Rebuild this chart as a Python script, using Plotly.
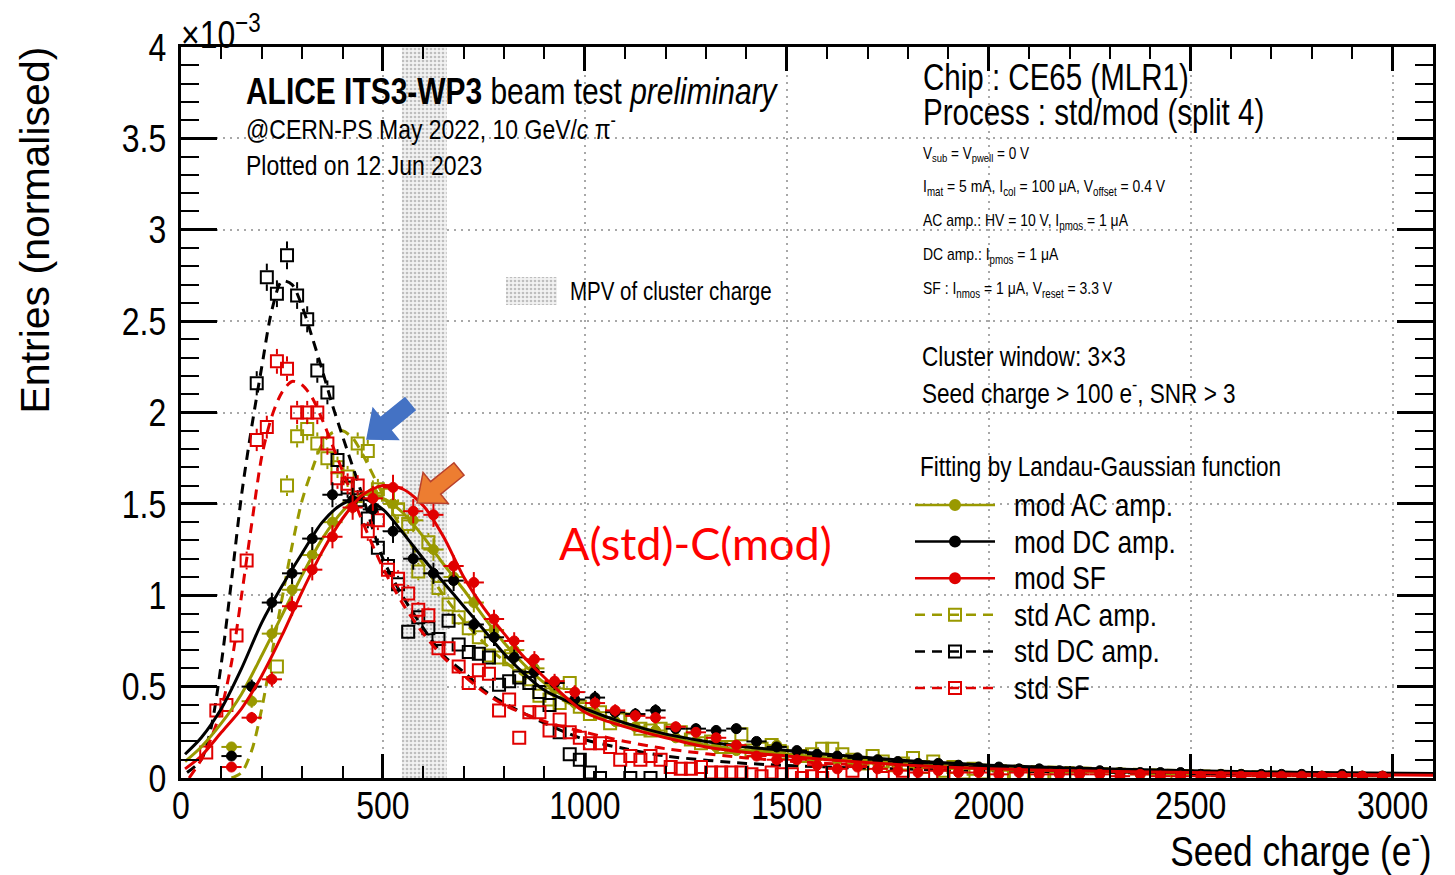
import plotly.graph_objects as go

# ------------------------------------------------------------------
# Seed-charge distributions (entries normalised, in units of 1e-3)
# ------------------------------------------------------------------
# "mod" process, 50 e- bins
mod_x = [125, 175, 225, 275, 325, 375, 425, 475, 525, 575, 625, 675, 725, 775,
         825, 875, 925, 975, 1025, 1075, 1125, 1175, 1225, 1275, 1325, 1375,
         1425, 1475, 1525, 1575, 1625, 1675, 1725, 1775, 1825, 1875, 1925, 1975,
         2025, 2075, 2125, 2175, 2225, 2275, 2325, 2375, 2425, 2475, 2525, 2575,
         2625, 2675, 2725, 2775, 2825, 2875, 2925, 2975]
mod_ac_y = [0.17, 0.42, 0.79, 1.03, 1.22, 1.40, 1.51, 1.56, 1.50, 1.41, 1.25, 1.10, 0.96, 0.81,
            0.70, 0.60, 0.49, 0.41, 0.36, 0.31, 0.28, 0.26, 0.22, 0.20, 0.17, 0.15,
            0.15, 0.18, 0.12, 0.11, 0.10, 0.08, 0.08, 0.07, 0.06, 0.06, 0.05, 0.05,
            0.04, 0.04, 0.04, 0.03, 0.03, 0.03, 0.03, 0.02, 0.02, 0.02, 0.02, 0.02,
            0.02, 0.01, 0.01, 0.01, 0.01, 0.01, 0.01, 0.01]
mod_dc_y = [0.12, 0.50, 0.96, 1.12, 1.31, 1.55, 1.52, 1.47, 1.35, 1.20, 1.12, 1.08, 0.84, 0.77,
            0.66, 0.58, 0.52, 0.43, 0.44, 0.36, 0.35, 0.37, 0.27, 0.27, 0.26, 0.27,
            0.20, 0.17, 0.15, 0.13, 0.12, 0.11, 0.10, 0.09, 0.08, 0.08, 0.07, 0.06,
            0.06, 0.05, 0.05, 0.04, 0.04, 0.04, 0.03, 0.03, 0.03, 0.03, 0.02, 0.02,
            0.02, 0.02, 0.02, 0.02, 0.01, 0.02, 0.01, 0.01]
mod_sf_y = [0.06, 0.33, 0.54, 0.94, 1.14, 1.32, 1.48, 1.53, 1.59, 1.46, 1.44, 1.16, 1.07, 0.87,
            0.75, 0.65, 0.53, 0.47, 0.41, 0.37, 0.34, 0.33, 0.28, 0.25, 0.22, 0.18,
            0.12, 0.10, 0.10, 0.07, 0.05, 0.06, 0.05, 0.04, 0.03, 0.04, 0.03, 0.03,
            0.02, 0.03, 0.02, 0.02, 0.02, 0.02, 0.01, 0.02, 0.01, 0.01, 0.01, 0.01,
            0.01, 0.01, 0.01, 0.01, 0.01, 0.01, 0.01, 0.01]

# "std" process, 25 e- bins
std_ac_x = [237.5, 262.5, 287.5, 312.5, 337.5, 362.5, 387.5, 412.5, 437.5, 462.5, 487.5,
            512.5, 537.5, 562.5, 587.5, 612.5, 637.5, 662.5, 687.5, 712.5, 737.5, 762.5,
            787.5, 812.5, 837.5, 862.5, 887.5, 912.5, 937.5, 962.5, 987.5, 1012.5, 1037.5,
            1062.5, 1087.5, 1112.5, 1137.5, 1162.5, 1187.5, 1212.5, 1237.5, 1262.5, 1287.5,
            1312.5, 1337.5, 1362.5, 1387.5, 1412.5, 1437.5, 1462.5, 1487.5, 1512.5, 1537.5,
            1562.5, 1587.5, 1612.5, 1637.5, 1662.5, 1687.5, 1712.5, 1737.5, 1762.5, 1787.5,
            1812.5, 1837.5, 1862.5, 1887.5, 1912.5, 1937.5, 1962.5, 1987.5, 2012.5, 2037.5,
            2062.5, 2087.5, 2112.5, 2137.5, 2162.5, 2187.5, 2437.5]
std_ac_y = [0.61, 1.60, 1.87, 1.91, 1.83, 1.75, 1.70, 1.65, 1.83, 1.79, 1.58,
            1.55, 1.47, 1.39, 1.13, 1.29, 1.04, 0.95, 0.88, 0.82, 0.77, 0.67,
            0.66, 0.65, 0.56, 0.54, 0.45, 0.43, 0.41, 0.52, 0.39, 0.35, 0.36,
            0.30, 0.32, 0.32, 0.27, 0.26, 0.27, 0.26, 0.25, 0.21, 0.19,
            0.20, 0.17, 0.17, 0.24, 0.15, 0.16, 0.18, 0.14, 0.10, 0.12,
            0.13, 0.16, 0.16, 0.13, 0.10, 0.08, 0.12, 0.09, 0.07, 0.08,
            0.11, 0.06, 0.09, 0.04, 0.06, 0.03, 0.05, 0.03, 0.02, 0.01,
            0.02, 0.01, 0.00, 0.01, 0.00, 0.00, 0.00]
std_dc_x = [187.5, 212.5, 237.5, 262.5, 287.5, 312.5, 337.5, 362.5, 387.5, 412.5, 437.5,
            462.5, 487.5, 512.5, 537.5, 562.5, 587.5, 612.5, 637.5, 662.5, 687.5, 712.5,
            737.5, 762.5, 787.5, 812.5, 837.5, 862.5, 887.5, 912.5, 937.5, 962.5, 987.5,
            1012.5, 1037.5, 1112.5, 1162.5]
std_dc_y = [2.16, 2.74, 2.65, 2.86, 2.64, 2.51, 2.23, 2.11, 1.74, 1.59, 1.52,
            1.42, 1.26, 1.16, 1.06, 0.80, 0.88, 0.82, 0.76, 0.86, 0.73, 0.69,
            0.68, 0.66, 0.51, 0.53, 0.55, 0.52, 0.47, 0.40, 0.25, 0.13, 0.10,
            0.03, 0.00, 0.00, 0.00]
std_sf_x = [62.5, 87.5, 112.5, 137.5, 162.5, 187.5, 212.5, 237.5, 262.5, 287.5, 312.5,
            337.5, 362.5, 387.5, 412.5, 437.5, 462.5, 487.5, 512.5, 537.5, 562.5, 587.5,
            612.5, 637.5, 662.5, 687.5, 712.5, 737.5, 762.5, 787.5, 812.5, 837.5, 862.5,
            887.5, 912.5, 937.5, 962.5, 987.5, 1012.5, 1037.5, 1062.5, 1087.5, 1112.5,
            1137.5, 1162.5, 1187.5, 1212.5, 1237.5, 1262.5, 1287.5, 1312.5, 1337.5, 1362.5,
            1387.5, 1412.5, 1437.5, 1462.5, 1487.5, 1512.5, 1537.5, 1562.5, 1587.5, 1612.5,
            1662.5, 1737.5, 1787.5, 1837.5, 1887.5]
std_sf_y = [0.14, 0.37, 0.40, 0.78, 1.19, 1.85, 1.92, 2.28, 2.24, 2.00, 2.00,
            2.00, 1.83, 1.64, 1.61, 1.60, 1.35, 1.41, 1.14, 1.09, 1.01, 0.92,
            0.89, 0.71, 0.71, 0.61, 0.52, 0.59, 0.57, 0.37, 0.43, 0.22, 0.36,
            0.36, 0.26, 0.32, 0.25, 0.22, 0.19, 0.19, 0.17, 0.10, 0.12,
            0.10, 0.12, 0.10, 0.06, 0.05, 0.05, 0.06, 0.03, 0.03, 0.03,
            0.03, 0.02, 0.01, 0.03, 0.02, 0.02, 0.00, 0.01, 0.00, 0.02,
            0.04, 0.00, 0.04, 0.02, 0.01]

# Landau-Gaussian fit curves, sampled along x
fit_mod_x = [10, 50, 100, 150, 200, 250, 300, 350, 400, 450, 500, 550, 600, 650, 700, 750,
             800, 850, 900, 1000, 1100, 1200, 1300, 1400, 1500, 1600, 1800, 2000, 2200,
             2500, 2800, 3100]
fit_mod_ac = [0.09, 0.17, 0.30, 0.46, 0.67, 0.89, 1.11, 1.31, 1.46, 1.55, 1.53, 1.45, 1.32,
              1.17, 1.03, 0.88, 0.74, 0.62, 0.52, 0.38, 0.30, 0.23, 0.18, 0.15, 0.13, 0.11,
              0.08, 0.06, 0.048, 0.035, 0.025, 0.02]
fit_mod_dc = [0.13, 0.22, 0.38, 0.60, 0.85, 1.05, 1.23, 1.40, 1.50, 1.53, 1.47, 1.34, 1.20,
              1.07, 0.94, 0.81, 0.68, 0.57, 0.48, 0.38, 0.30, 0.24, 0.20, 0.17, 0.15, 0.13,
              0.095, 0.07, 0.055, 0.04, 0.03, 0.025]
fit_mod_sf = [0.05, 0.12, 0.25, 0.38, 0.56, 0.78, 1.02, 1.24, 1.42, 1.55, 1.60, 1.58, 1.49,
              1.32, 1.10, 0.93, 0.79, 0.66, 0.55, 0.36, 0.28, 0.22, 0.17, 0.14, 0.12, 0.10,
              0.07, 0.05, 0.04, 0.03, 0.02, 0.015]
fit_std_ac_x = [125, 150, 175, 200, 225, 250, 275, 300, 325, 350, 375, 400, 425, 450, 500,
                550, 600, 650, 700, 750, 800, 900, 1000, 1100, 1200, 1400, 1600, 1800, 2000,
                2500, 3100]
fit_std_ac = [0.0, 0.03, 0.15, 0.38, 0.68, 0.98, 1.27, 1.52, 1.69, 1.83, 1.89, 1.90, 1.86,
              1.77, 1.55, 1.35, 1.17, 1.00, 0.86, 0.74, 0.64, 0.48, 0.37, 0.30, 0.24, 0.17,
              0.12, 0.09, 0.07, 0.04, 0.02]
fit_std_dc_x = [15, 50, 75, 100, 125, 150, 175, 200, 225, 250, 275, 300, 325, 350, 375, 400,
                450, 500, 550, 600, 650, 700, 750, 800, 900, 1000, 1100, 1200, 1400, 1600,
                2000, 2500, 3100]
fit_std_dc = [0.03, 0.10, 0.28, 0.63, 1.08, 1.55, 1.92, 2.25, 2.56, 2.72, 2.70, 2.58, 2.41,
              2.23, 2.04, 1.87, 1.54, 1.20, 0.99, 0.82, 0.67, 0.58, 0.48, 0.41, 0.30, 0.21,
              0.16, 0.12, 0.08, 0.06, 0.04, 0.025, 0.02]
fit_std_sf_x = [20, 50, 75, 100, 125, 150, 175, 200, 225, 250, 275, 300, 325, 350, 375, 400,
                450, 500, 550, 600, 650, 700, 750, 800, 900, 1000, 1100, 1200, 1400, 1600,
                2000, 2500, 3100]
fit_std_sf = [0.0, 0.10, 0.22, 0.38, 0.63, 1.00, 1.39, 1.76, 1.98, 2.11, 2.17, 2.15, 2.08,
              1.96, 1.82, 1.68, 1.40, 1.15, 0.95, 0.79, 0.66, 0.56, 0.47, 0.40, 0.31, 0.25,
              0.20, 0.16, 0.11, 0.08, 0.05, 0.03, 0.02]

# MPV range of the cluster charge (e-)
mpv_range = [547, 658]

x_range = [0, 3100]
y_range = [0, 4]

# ------------------------------------------------------------------
# Styling
# ------------------------------------------------------------------
OLIVE = "#999900"
BLACK = "#000000"
RED = "#e00000"
FONT = "Liberation Sans, Arial, sans-serif"
FONT_WIDE = "Arial, Liberation Sans, sans-serif"
DASH = "10px,7px"
SQUEEZE = 0.82  # horizontal text compression (narrow Helvetica look)
SQ_SIZE = 12    # open-square marker size (px)

# plot frame in pixels (figure is 1455 x 875)
W, H = 1455, 875
L, R, T, B = 181, 1433, 47, 778


def fx(px):
    return (px - L) / (R - L)


def fy(py):
    return (B - py) / (B - T)


def stat_err(vals, k):
    return [k * v ** 0.5 for v in vals]


fig = go.Figure()

# MPV band
fig.add_trace(go.Scatter(
    x=[mpv_range[0], mpv_range[1], mpv_range[1], mpv_range[0], mpv_range[0]],
    y=[y_range[0], y_range[0], y_range[1], y_range[1], y_range[0]],
    mode="none", fill="toself", fillcolor="rgba(0,0,0,0)",
    fillpattern=dict(shape=".", fgcolor="#8a8a8a", bgcolor="#f2f2f2", size=4, solidity=0.35),
    hoverinfo="skip", showlegend=False))

series = [
    # name, x, y, colour, symbol, half bin width, fit x, fit y, dash, err coef
    ("std AC amp.", std_ac_x, std_ac_y, OLIVE, "square-open", 12.5, fit_std_ac_x, fit_std_ac, DASH, 0.045),
    ("std DC amp.", std_dc_x, std_dc_y, BLACK, "square-open", 12.5, fit_std_dc_x, fit_std_dc, DASH, 0.045),
    ("std SF", std_sf_x, std_sf_y, RED, "square-open", 12.5, fit_std_sf_x, fit_std_sf, DASH, 0.045),
    ("mod AC amp.", mod_x, mod_ac_y, OLIVE, "circle", 25, fit_mod_x, fit_mod_ac, "solid", 0.055),
    ("mod DC amp.", mod_x, mod_dc_y, BLACK, "circle", 25, fit_mod_x, fit_mod_dc, "solid", 0.055),
    ("mod SF", mod_x, mod_sf_y, RED, "circle", 25, fit_mod_x, fit_mod_sf, "solid", 0.055),
]

# half height of an open square, in data units: error bars start outside the marker
sq_half = (SQ_SIZE / 2 + 1) * (y_range[1] - y_range[0]) / (B - T)

for name, xs, ys, col, sym, hw, fxs, fys, dash, k in series:
    errs = stat_err(ys, k)
    if sym.endswith("open"):
        # vertical error bars drawn only outside the hollow marker
        ex, ey = [], []
        for x, y, e in zip(xs, ys, errs):
            if e > sq_half:
                ex += [x, x, None, x, x, None]
                ey += [y + sq_half, y + e, None, y - sq_half, y - e, None]
        fig.add_trace(go.Scatter(x=ex, y=ey, mode="lines", showlegend=False, hoverinfo="skip",
                                 line=dict(color=col, width=2)))
        fig.add_trace(go.Scatter(
            x=xs, y=ys, mode="markers", name=name, showlegend=False,
            marker=dict(symbol=sym, size=SQ_SIZE, color=col, line=dict(width=2, color=col))))
    else:
        fig.add_trace(go.Scatter(
            x=xs, y=ys, mode="markers", name=name, showlegend=False,
            marker=dict(symbol=sym, size=10, color=col, line=dict(width=1, color=col)),
            error_y=dict(type="data", array=errs, color=col, thickness=2, width=0),
            error_x=dict(type="constant", value=hw, color=col, thickness=2, width=0),
        ))
    fig.add_trace(go.Scatter(
        x=fxs, y=fys, mode="lines", showlegend=False, hoverinfo="skip",
        line=dict(color=col, width=3, dash=dash, shape="spline", smoothing=0.8),
    ))

# ------------------------------------------------------------------
# Legend, drawn on an overlay axis spanning the frame (0..1)
# ------------------------------------------------------------------
legend_order = [3, 4, 5, 0, 1, 2]
key_x0, key_x1 = fx(915), fx(995)
key_mid = fx(955)
row_top, row_step = fy(505), (fy(505) - fy(688)) / 5
for i, idx in enumerate(legend_order):
    name, _, _, col, sym, _, _, _, dash, _ = series[idx]
    yy = row_top - i * row_step
    fig.add_trace(go.Scatter(
        x=[key_x0, key_x1], y=[yy, yy], xaxis="x2", yaxis="y2", mode="lines",
        line=dict(color=col, width=2.5, dash=dash), showlegend=False, hoverinfo="skip"))
    fig.add_trace(go.Scatter(
        x=[key_mid], y=[yy], xaxis="x2", yaxis="y2", mode="markers",
        marker=dict(symbol=sym, size=SQ_SIZE if sym.endswith("open") else 10, color=col,
                    line=dict(width=2, color=col)),
        showlegend=False, hoverinfo="skip"))
    fig.add_annotation(x=fx(1012), y=yy, xref="paper", yref="paper", text=name,
                       showarrow=False, xanchor="left", yanchor="middle", align="left",
                       font=dict(family=FONT, size=32, color="black"))

# MPV legend key
fig.add_trace(go.Scatter(
    x=[fx(506), fx(557), fx(557), fx(506), fx(506)],
    y=[fy(305), fy(305), fy(277), fy(277), fy(305)],
    xaxis="x2", yaxis="y2", mode="none", fill="toself", fillcolor="rgba(0,0,0,0)",
    fillpattern=dict(shape=".", fgcolor="#8a8a8a", bgcolor="#f2f2f2", size=4, solidity=0.35),
    showlegend=False, hoverinfo="skip"))


def text(px, py, s, size, family=FONT, color="black", xanchor="left", yanchor="middle", angle=0):
    fig.add_annotation(x=fx(px), y=fy(py), xref="paper", yref="paper", text=s,
                       showarrow=False, xanchor=xanchor, yanchor=yanchor, textangle=angle,
                       align=xanchor if xanchor in ("left", "right") else "center",
                       font=dict(family=family, size=size, color=color))


text(568, 291, "MPV of cluster charge", 25)
text(918, 466, "Fitting by Landau-Gaussian function", 27.5)

text(179, 31, "×10<sup>−3</sup>", 39)
text(244, 92, "<b>ALICE ITS3-WP3</b> beam test <i>preliminary</i>", 36.5)
text(244, 127, "@CERN-PS May 2022, 10 GeV/<i>c</i> π<sup>-</sup>", 28)
text(244, 166, "Plotted on 12 Jun 2023", 28)

text(921, 78, "Chip : CE65 (MLR1)", 36)
text(921, 113, "Process : std/mod (split 4)", 36)
text(921, 154, "V<sub>sub</sub> = V<sub>pwell</sub> = 0 V", 16.5)
text(921, 188, "I<sub>mat</sub> = 5 mA, I<sub>col</sub> = 100 μA, V<sub>offset</sub> = 0.4 V", 17)
text(921, 222, "AC amp.: HV = 10 V, I<sub>pmos</sub> = 1 μA", 17)
text(921, 256, "DC amp.: I<sub>pmos</sub> = 1 μA", 17)
text(921, 290, "SF : I<sub>nmos</sub> = 1 μA, V<sub>reset</sub> = 3.3 V", 17)
text(920, 356, "Cluster window: 3×3", 27.5)
text(920, 391, "Seed charge > 100 e<sup>-</sup>, SNR > 3", 27.5)

text(557, 543, "A(std)-C(mod)", 45, family="Lato, Open Sans, sans-serif", color="#ff0000")

# axis titles
text(35, 45, "Entries (normalised)", 41, family=FONT_WIDE, xanchor="center", yanchor="top", angle=-90)
text(1433, 848, "Seed charge (e<sup>-</sup>)", 43, xanchor="right")


# ------------------------------------------------------------------
# Block arrows pointing at the peaks
# ------------------------------------------------------------------
def block_arrow(tail, tip, shaft_w, head_w, head_l, fill, outline):
    (x0, y0), (x1, y1) = tail, tip
    dx, dy = x1 - x0, y1 - y0
    n = (dx * dx + dy * dy) ** 0.5
    ux, uy = dx / n, dy / n
    nx, ny = -uy, ux
    bx, by = x1 - ux * head_l, y1 - uy * head_l
    pts = [
        (x0 + nx * shaft_w / 2, y0 + ny * shaft_w / 2),
        (bx + nx * shaft_w / 2, by + ny * shaft_w / 2),
        (bx + nx * head_w / 2, by + ny * head_w / 2),
        (x1, y1),
        (bx - nx * head_w / 2, by - ny * head_w / 2),
        (bx - nx * shaft_w / 2, by - ny * shaft_w / 2),
        (x0 - nx * shaft_w / 2, y0 - ny * shaft_w / 2),
    ]
    path = "M " + " L ".join(f"{fx(px):.5f},{fy(py):.5f}" for px, py in pts) + " Z"
    fig.add_shape(type="path", path=path, xref="paper", yref="paper",
                  fillcolor=fill, line=dict(color=outline, width=1.5), layer="above")


block_arrow((410, 404), (367, 439), 16, 40, 24, "#4472C4", "#4472C4")
block_arrow((459, 469), (417, 503), 16, 40, 24, "#ED7D31", "#B8412C")

# ------------------------------------------------------------------
# Axes
# ------------------------------------------------------------------
axis_common = dict(
    showline=True, linewidth=3, linecolor="black", mirror="allticks",
    ticks="inside", tickwidth=2.5, tickcolor="black",
    showgrid=True, gridcolor="#a8a8a8", gridwidth=2, griddash="2px,5px",
    zeroline=False, tickfont=dict(family=FONT, size=39, color="black"),
)
fig.update_layout(
    width=W, height=H,
    margin=dict(l=L, r=W - R, t=T, b=H - B),
    paper_bgcolor="white", plot_bgcolor="white",
    showlegend=False,
    xaxis=dict(range=x_range, tick0=0, dtick=500, ticklen=24, ticklabelstandoff=-9,
               minor=dict(dtick=100, ticklen=12, tickwidth=2, ticks="inside",
                          tickcolor="black", showgrid=False),
               **axis_common),
    yaxis=dict(range=y_range, tick0=0, dtick=0.5, ticklen=36, ticklabelstandoff=4,
               minor=dict(dtick=0.1, ticklen=18, tickwidth=2, ticks="inside",
                          tickcolor="black", showgrid=False),
               **axis_common),
    xaxis2=dict(range=[0, 1], overlaying="x", anchor="y2", visible=False, fixedrange=True),
    yaxis2=dict(range=[0, 1], overlaying="y", anchor="x2", visible=False, fixedrange=True),
)

# Narrow the Helvetica-style labels horizontally, keeping each label's anchored edge in place.
squeeze_js = """
var gd = document.getElementById('{plot_id}');
var k = %s;
var keep = ['Entries (normalised)', 'A(std)-C(mod)'];
function squeeze(t, xanchor) {
  var s = t.textContent;
  for (var i = 0; i < keep.length; i++) { if (s.indexOf(keep[i]) >= 0) return; }
  var w = t.getComputedTextLength();
  if (!(w > 0)) return;
  t.setAttribute('textLength', (w * k).toFixed(2));
  t.setAttribute('lengthAdjust', 'spacingAndGlyphs');
  var anchor = t.getAttribute('text-anchor') || window.getComputedStyle(t).textAnchor || 'start';
  var edge = {start: 0, middle: 0.5, end: 1}[anchor];
  var want = {left: 0, center: 0.5, right: 1}[xanchor];
  if (edge === undefined || want === undefined) return;
  var dx = w * (1 - k) * (want - edge);
  if (Math.abs(dx) > 0.01) {
    var tr = t.getAttribute('transform') || '';
    t.setAttribute('transform', 'translate(' + dx.toFixed(2) + ',0) ' + tr);
  }
}
var anns = gd._fullLayout.annotations || [];
gd.querySelectorAll('g.annotation').forEach(function (g) {
  var a = anns[+g.getAttribute('data-index')];
  var t = g.querySelector('text.annotation-text') || g.querySelector('text');
  if (a && t) squeeze(t, a.xanchor);
});
gd.querySelectorAll('g.xtick text, g.ytick text').forEach(function (t) { squeeze(t, null); });
""" % SQUEEZE

fig.write_html("out.html", post_script=squeeze_js)
